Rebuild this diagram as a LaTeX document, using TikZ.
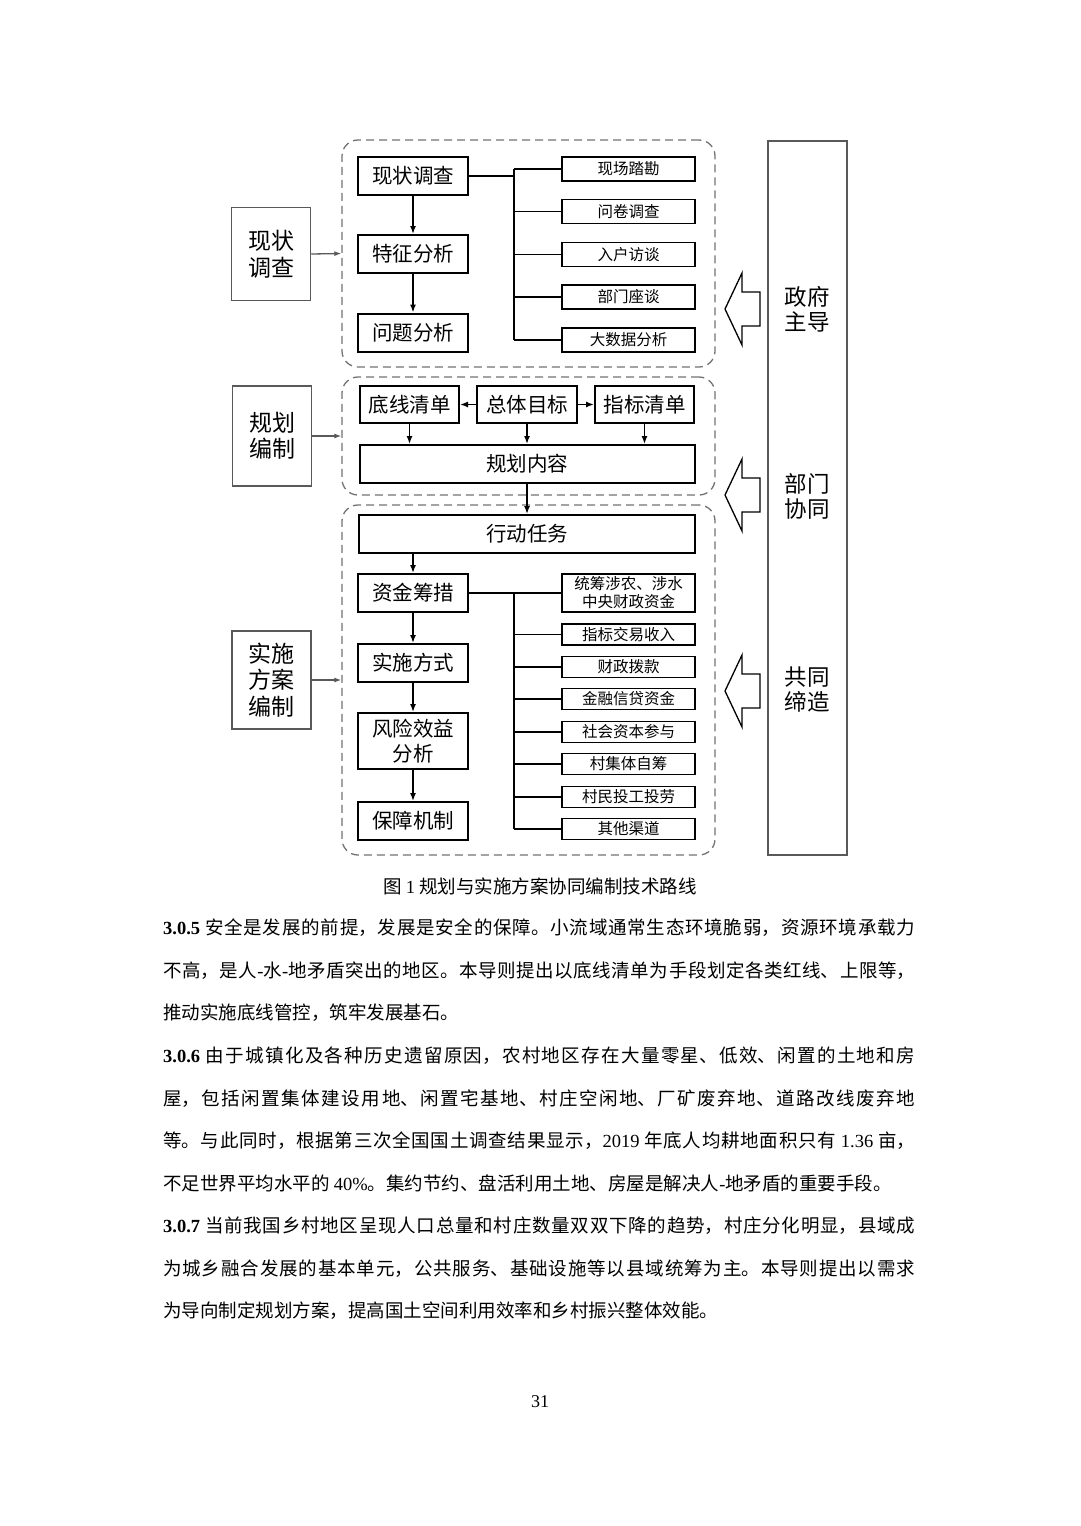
\documentclass[tikz,border=0pt]{standalone}
\usepackage{fontspec}
\setmainfont{Liberation Serif}
\newfontfamily\cjk{Noto Sans CJK SC}
\XeTeXlinebreaklocale "zh"
\XeTeXlinebreakskip=0pt plus 2pt
\usetikzlibrary{arrows.meta,positioning,calc}

\begin{document}
\begin{tikzpicture}[x=1pt,y=-1pt,
    sidebox/.style={draw=black!65,line width=1.5pt,align=center,inner sep=0pt,
      minimum width=79pt,font=\cjk\fontsize{23}{26.5}\selectfont},
    stepbox/.style={draw,line width=2pt,align=center,inner sep=0pt,
      minimum height=38pt,font=\cjk\fontsize{20.5}{25}\selectfont},
    srcbox/.style={draw,line width=1.8pt,align=center,inner sep=0pt,
      minimum width=133pt,font=\cjk\fontsize{15.5}{18}\selectfont},
    group/.style={draw=black!55,line width=1.3pt,dash pattern=on 8pt off 5pt,
      rounded corners=16pt,inner sep=0pt,minimum width=373pt},
    link/.style={line width=1.5pt,-{Latex[length=8pt,width=6pt]}},
    feed/.style={draw=black!65,line width=1.3pt,-{Latex[length=7pt,width=5pt]}},
    bus/.style={line width=1.5pt},
    para/.style={anchor=north west,inner sep=0pt,text width=752pt,align=justify,
      font=\cjk\fontsize{18.5}{42.5}\selectfont}]
  \fill[white] (0,0) rectangle (1080,1526);
  \useasboundingbox (0,0) rectangle (1080,1526);

  % dashed frames
  \node[group,minimum height=227pt] (g1) at (528.5,253.5) {};
  \node[group,minimum height=118pt] (g2) at (528.5,436) {};
  \node[group,minimum height=350pt] (g3) at (528.5,680) {};

  % stages on the left
  \node[sidebox,minimum height=93pt] (xz) at (271,254) {现状\\调查};
  \node[sidebox,minimum height=100pt] (gh) at (272,436) {规划\\编制};
  \node[sidebox,minimum height=98pt] (ss) at (271.5,680) {实施\\方案\\编制};
  \draw[feed] (xz.east) -- (g1.west);
  \draw[feed] (gh.east) -- (g2.west);
  \draw[feed] (ss.east) -- (g3.west);

  % survey
  \node[stepbox,minimum width=110pt] (xzdc) at (413,176) {现状调查};
  \node[stepbox,minimum width=110pt] (tzfx) at (413,254) {特征分析};
  \node[stepbox,minimum width=110pt] (wtfx) at (413,332.5) {问题分析};
  \draw[link] (xzdc) -- (tzfx);
  \draw[link] (tzfx) -- (wtfx);
  \coordinate (b1) at (514,0);
  \foreach \n/\y/\t in {xc/169/现场踏勘,wj/211.5/问卷调查,rh/254.5/入户访谈,
      bm/297/部门座谈,sj/340/大数据分析}
  {
    \node[srcbox,minimum height=24pt] (\n) at (628.5,\y) {\t};
    \draw[bus] (\n.west -| b1) -- (\n.west);
  }
  \draw[bus] (xzdc.east) -- (xzdc.east -| b1);
  \draw[bus] (xc.west -| b1) -- (sj.west -| b1);

  % plan
  \node[stepbox,minimum width=99pt,minimum height=37pt] (dx) at (409.5,404.5) {底线清单};
  \node[stepbox,minimum width=100pt,minimum height=37pt] (zt) at (527,404.5) {总体目标};
  \node[stepbox,minimum width=99pt,minimum height=37pt] (zb) at (644.5,404.5) {指标清单};
  \node[stepbox,minimum width=335pt] (ghnr) at (527,464) {规划内容};
  \draw[link] (zt) -- (dx);
  \draw[link] (zt) -- (zb);
  \foreach \n in {dx,zt,zb}
    \draw[link] (\n.south) -- (\n.south |- ghnr.north);

  % implementation
  \node[stepbox,minimum width=336pt] (xdrw) at (527,534) {行动任务};
  \draw[link] (ghnr) -- (xdrw);
  \node[stepbox,minimum width=110pt] (zjcc) at (413,593) {资金筹措};
  \node[stepbox,minimum width=110pt] (ssfs) at (413,663) {实施方式};
  \node[stepbox,minimum width=110pt,minimum height=56pt] (fxxy) at (413,741) {风险效益\\分析};
  \node[stepbox,minimum width=110pt] (bzjz) at (413,821) {保障机制};
  \draw[link] (xdrw.south -| zjcc.north) -- (zjcc.north);
  \draw[link] (zjcc) -- (ssfs);
  \draw[link] (ssfs) -- (fxxy);
  \draw[link] (fxxy) -- (bzjz);
  \node[srcbox,minimum height=38pt] (tc) at (628.5,593) {统筹涉农、涉水\\中央财政资金};
  \coordinate (b3) at (514,0);
  \foreach \n/\y/\t in {jy/634.5/指标交易收入,bk/667/财政拨款,jr/699/金融信贷资金,
      sh/732/社会资本参与,cj/764/村集体自筹,cm/797/村民投工投劳,qt/829/其他渠道}
  {
    \node[srcbox,minimum height=21pt] (\n) at (628.5,\y) {\t};
    \draw[bus] (\n.west -| b3) -- (\n.west);
  }
  \draw[bus] (zjcc.east) -- (tc.west);
  \draw[bus] (tc.west -| b3) -- (qt.west -| b3);

  % support column
  \node[draw=black!65,line width=1.5pt,minimum width=79pt,minimum height=714pt] (col) at (807.5,498) {};
  \node[align=center,font=\cjk\fontsize{22.5}{25}\selectfont] (zfzd) at (807,309) {政府\\主导};
  \node[align=center,font=\cjk\fontsize{22.5}{25}\selectfont] (bmxt) at (807,496) {部门\\协同};
  \node[align=center,font=\cjk\fontsize{22.5}{25}\selectfont] (gtdz) at (807,690) {共同\\缔造};
  \foreach \c in {309,495,691}
    \draw[line width=1.3pt,fill=white] (725,\c) -- (742,\c-36) -- (742,\c-17) -- (760,\c-17)
      -- (760,\c+17) -- (742,\c+17) -- (742,\c+36) -- cycle;

  % caption and text
  \node[font=\cjk\fontsize{18.5}{20}\selectfont] (cap) at (540,886) {图 {\rmfamily 1} 规划与实施方案协同编制技术路线};
  \node[para] (p305) at (163,919) {{\rmfamily\bfseries 3.0.5} 安全是发展的前提，发展是安全的保障。小流域通常生态环境脆弱，资源环境承载力\linebreak
    不高，是人{\rmfamily -}水{\rmfamily -}地矛盾突出的地区。本导则提出以底线清单为手段划定各类红线、上限等，\linebreak
    推动实施底线管控，筑牢发展基石。};
  \node[para] (p306) at (163,1047) {{\rmfamily\bfseries 3.0.6} 由于城镇化及各种历史遗留原因，农村地区存在大量零星、低效、闲置的土地和房\linebreak
    屋，包括闲置集体建设用地、闲置宅基地、村庄空闲地、厂矿废弃地、道路改线废弃地\linebreak
    等。与此同时，根据第三次全国国土调查结果显示，{\rmfamily 2019} 年底人均耕地面积只有 {\rmfamily 1.36} 亩，\linebreak
    不足世界平均水平的 {\rmfamily 40\%}。集约节约、盘活利用土地、房屋是解决人{\rmfamily -}地矛盾的重要手段。};
  \node[para] (p307) at (163,1217) {{\rmfamily\bfseries 3.0.7} 当前我国乡村地区呈现人口总量和村庄数量双双下降的趋势，村庄分化明显，县域成\linebreak
    为城乡融合发展的基本单元，公共服务、基础设施等以县域统筹为主。本导则提出以需求\linebreak
    为导向制定规划方案，提高国土空间利用效率和乡村振兴整体效能。};
  \node[font=\fontsize{18}{20}\selectfont] (pg) at (540,1402) {31};
\end{tikzpicture}
\end{document}
